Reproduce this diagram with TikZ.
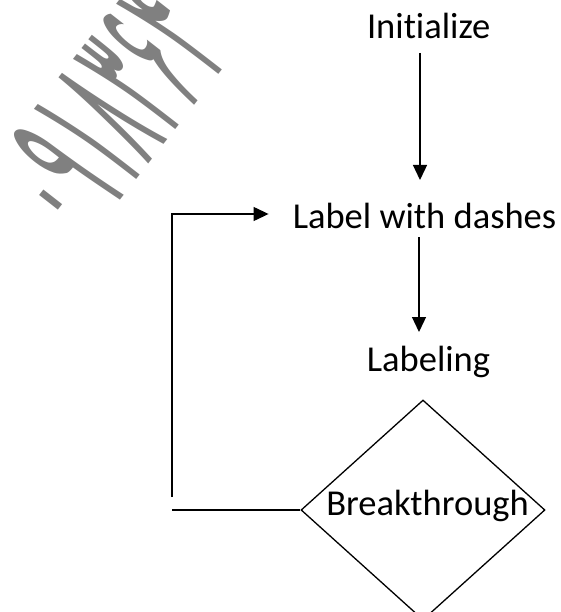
\documentclass[tikz,border=0pt]{standalone}
\usepackage{fontspec}
\setmainfont{Carlito}[Ligatures=NoCommon]
\newfontfamily\persianfont[Script=Arabic]{DejaVu Sans}
\usetikzlibrary{arrows.meta,shapes.geometric}
\definecolor{wmgray}{RGB}{128,128,128}
\tikzset{
  lbl/.style={anchor=base, inner sep=0pt, font=\fontsize{36.5}{40}\selectfont},
  flow/.style={line width=1.3pt, -{Triangle[length=15pt,width=14pt]}},
  plain/.style={line width=1.3pt},
  decision/.style={diamond, draw, line width=1.3pt, minimum width=244pt,
    minimum height=220pt, inner sep=0pt},
  stamp/.style={rotate=52, anchor=base west, text=wmgray,
    inner sep=0pt, font=\persianfont\fontsize{130}{130}\selectfont},
}
\begin{document}
\begin{tikzpicture}[x=1pt,y=-1pt]
\useasboundingbox (0,0) rectangle (561,612);
% diagonal number stamp
\node[stamp] (wm) at (83,248) {\scalebox{0.5}[1.5]{۰۹۱۸۳۶۴}};
% flow steps
\node[lbl] (init) at (428.7,39) {Initialize};
\node[lbl] (lwd) at (424.5,229) {Label with dashes};
\node[lbl] (lab) at (428.5,371) {Labeling};
\node[decision] (dia) at (423,510) {};
\node[lbl] (brk) at (427.5,515) {Breakthrough};
% helper columns for the vertical connectors
\coordinate (col) at (420,0);
\coordinate (col2) at (419,0);
\coordinate (lp) at (172,497);
\draw[flow, shorten <=14pt, shorten >=49pt] (init.base -| col) -- (lwd.base -| col);
\draw[flow, shorten <=8pt, shorten >=39pt] (lwd.base -| col2) -- (lab.base -| col2);
% loop back from the decision
\draw[flow] (lp) |- ([xshift=-24pt,yshift=15pt]lwd.base west);
\draw[plain] (dia.west) -- (dia.west -| lp);
\end{tikzpicture}
\end{document}
